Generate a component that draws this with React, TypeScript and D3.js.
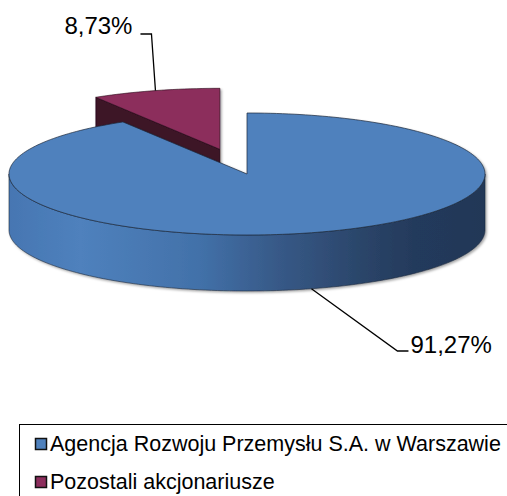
import React from "react";
import * as d3 from "d3";

const categories = ["Agencja Rozwoju Przemysłu S.A. w Warszawie", "Pozostali akcjonariusze"];
const values = [91.27, 8.73];
const labels = ["91,27%", "8,73%"];
const colors = ["#4F81BD", "#8C2D5C"];
const sideDark = ["#243A5C", "#3D1428"];

const W = 507;
const H = 496;
const CX = 247;
const CY = 174;
const RX = 238;
const RY = 61;
const DEPTH = 56;
const EXPLODE = [0, 100];
const FONT = "'Liberation Sans', Arial, sans-serif";

export default function App() {
  const pie = d3.pie<number>().sort(null).value((d) => d);
  const arcs = pie(values);

  const offset = (i: number) => {
    const a = (arcs[i].startAngle + arcs[i].endAngle) / 2;
    const d = EXPLODE[i];
    return [d * Math.sin(a), -d * Math.cos(a) * (RY / RX)];
  };
  const pt = (a: number, dx: number, dy: number, h = 0): [number, number] => [
    CX + dx + RX * Math.sin(a),
    CY + dy - RY * Math.cos(a) + h,
  ];
  const arcPath = (a0: number, a1: number, dx: number, dy: number, h: number) => {
    const steps = Math.max(2, Math.ceil(Math.abs(a1 - a0) * 40));
    const line = d3.line();
    const pts = d3.range(steps + 1).map((k) => pt(a0 + ((a1 - a0) * k) / steps, dx, dy, h));
    return line(pts)!.slice(1);
  };

  const topFace = (i: number) => {
    const [dx, dy] = offset(i);
    const { startAngle: s, endAngle: e } = arcs[i];
    const c = [CX + dx, CY + dy];
    return `M${c[0]},${c[1]}L${arcPath(s, e, dx, dy, 0)}Z`;
  };

  const sideFace = (i: number) => {
    const [dx, dy] = offset(i);
    const s = Math.max(arcs[i].startAngle, Math.PI / 2);
    const e = Math.min(arcs[i].endAngle, (3 * Math.PI) / 2);
    if (e <= s) return null;
    return `M${arcPath(s, e, dx, dy, 0)}L${arcPath(e, s, dx, dy, DEPTH)}Z`;
  };

  const radialFace = (i: number, a: number) => {
    const [dx, dy] = offset(i);
    const c: [number, number] = [CX + dx, CY + dy];
    const p = pt(a, dx, dy);
    return `M${c[0]},${c[1]}L${p[0]},${p[1]}L${p[0]},${p[1] + DEPTH}L${c[0]},${c[1] + DEPTH}Z`;
  };

  const smallMid = (arcs[1].startAngle + arcs[1].endAngle) / 2;
  const [sdx, sdy] = offset(1);
  const sAnchor = pt(smallMid, sdx, sdy);
  const bigMid = (arcs[0].startAngle + arcs[0].endAngle) / 2;
  const bAnchor = pt(bigMid, 0, 0, DEPTH);

  const smallElbow: [number, number] = [sAnchor[0] - 4, 34];
  const smallEnd: [number, number] = [smallElbow[0] - 11, 34];
  const bigElbow: [number, number] = [bAnchor[0] + 86, 351];
  const bigEnd: [number, number] = [bigElbow[0] + 11, 351];

  const stroke = "#1d2a3c";

  return (
    <svg width={W} height={H} style={{ position: "absolute", left: 0, top: 0, background: "#fff" }}>
      <defs>
        <linearGradient id="sideBlue" gradientUnits="userSpaceOnUse" x1={CX - RX} x2={CX + RX} y1={0} y2={0}>
          <stop offset="0" stopColor="#4676B2" />
          <stop offset="0.15" stopColor="#4F81BD" />
          <stop offset="0.4" stopColor="#4271A9" />
          <stop offset="0.55" stopColor="#385B8A" />
          <stop offset="0.75" stopColor="#2A4468" />
          <stop offset="0.85" stopColor={sideDark[0]} />
          <stop offset="1" stopColor="#223857" />
        </linearGradient>
        <filter id="shadow" x="-10%" y="-10%" width="120%" height="130%">
          <feDropShadow dx="1.5" dy="1.5" stdDeviation="1" floodColor="#000" floodOpacity="0.35" />
        </filter>
      </defs>

      <g filter="url(#shadow)">
        <path d={radialFace(1, arcs[1].startAngle)} fill={sideDark[1]} stroke="#1a0810" strokeWidth={0.6} />
        <path d={topFace(1)} fill={colors[1]} stroke="#2a0b1a" strokeWidth={0.6} />
      </g>

      <g filter="url(#shadow)">
        <path d={sideFace(0) || ""} fill="url(#sideBlue)" stroke={stroke} strokeWidth={0.6} />
        <path d={topFace(0)} fill={colors[0]} stroke={stroke} strokeWidth={0.7} />
      </g>

      <polyline
        points={[sAnchor, smallElbow, smallEnd].map((p) => p.join(",")).join(" ")}
        fill="none"
        stroke="#000"
        strokeWidth={1.3}
      />
      <text x={smallEnd[0] - 8} y={34} fontFamily={FONT} fontSize={24} textAnchor="end" fill="#000">
        {labels[1]}
      </text>
      <polyline
        points={[bAnchor, bigElbow, bigEnd].map((p) => p.join(",")).join(" ")}
        fill="none"
        stroke="#000"
        strokeWidth={1.3}
      />
      <text x={bigEnd[0] + 2} y={353} fontFamily={FONT} fontSize={24} fill="#000">
        {labels[0]}
      </text>

      <rect x={19.5} y={424.5} width={W} height={H} fill="none" stroke="#000" strokeWidth={1} />
      {categories.map((c, i) => (
        <g key={c}>
          <rect x={35.5} y={438.5 + i * 38} width={11} height={11} fill={colors[i]} stroke="#111" strokeWidth={1.5} />
          <text x={50} y={451 + i * 38} fontFamily={FONT} fontSize={21.5} fill="#000">
            {c}
          </text>
        </g>
      ))}
    </svg>
  );
}
